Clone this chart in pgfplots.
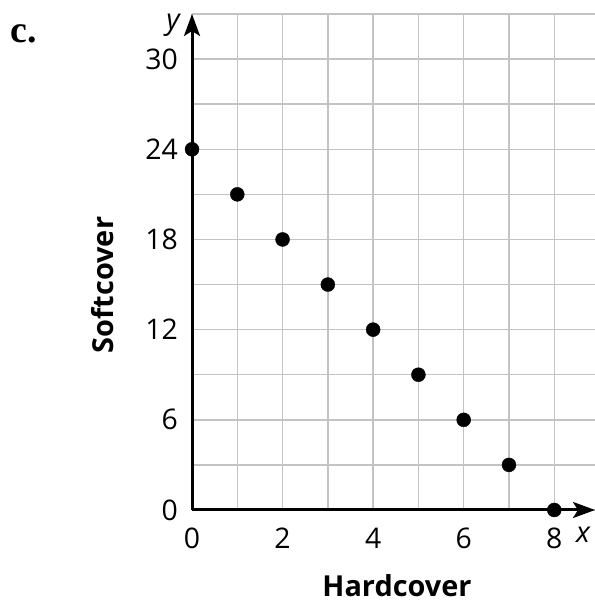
\documentclass[border=0pt]{standalone}
\usepackage{fontspec}
\setmainfont{Open Sans}
\newfontfamily\serifbf{Liberation Serif}
\usepackage{pgfplots}
\pgfplotsset{compat=1.18}
\usetikzlibrary{arrows.meta}
\definecolor{gridgray}{RGB}{195,195,195}
\begin{document}
\begin{tikzpicture}[x=1bp,y=1bp]
\path[use as bounding box] (0,0) rectangle (595,603);
\begin{axis}[
  at={(192bp,93bp)}, anchor=south west,
  scale only axis, width=403bp, height=496bp,
  xmin=0, xmax=8.9, ymin=0, ymax=33,
  axis lines=left,
  axis line style={line width=3bp, -{Stealth[length=22bp,width=16bp,inset=5bp]}},
  xtick={0,2,...,8}, minor xtick={1,3,5,7},
  ytick={0,6,...,30}, minor ytick={3,9,...,33},
  grid=both,
  major grid style={gridgray, line width=1.4bp},
  minor grid style={gridgray, line width=1.4bp},
  major tick length=0pt, minor tick length=0pt,
  /pgf/number format/assume math mode=true,
  ticklabel style={font=\fontsize{28.5}{32}\selectfont, inner sep=0pt},
  xticklabel style={anchor=north, yshift=-18bp},
  yticklabel style={anchor=east, xshift=-14bp},
  clip=false,
]
\addplot[only marks, mark=*, mark size=7bp, black] coordinates {
(0,24) (1,21) (2,18) (3,15) (4,12) (5,9) (6,6) (7,3) (8,0)
};
\end{axis}
\node[anchor=base, inner sep=0pt, font=\fontsize{29}{32}\selectfont\bfseries] at (397bp,6bp) {Hardcover};
\node[anchor=base, rotate=90, inner sep=0pt, font=\fontsize{29}{32}\selectfont\bfseries] at (113bp,318bp) {Softcover};
\node[inner sep=0pt, font=\fontsize{29}{32}\selectfont\itshape] at (173bp,578bp) {y};
\node[inner sep=0pt, font=\fontsize{29}{32}\selectfont\itshape] at (583bp,68bp) {x};
\node[inner sep=0pt, font=\fontsize{38}{40}\selectfont\serifbf\bfseries] at (24bp,569bp) {c.};
\end{tikzpicture}
\end{document}
